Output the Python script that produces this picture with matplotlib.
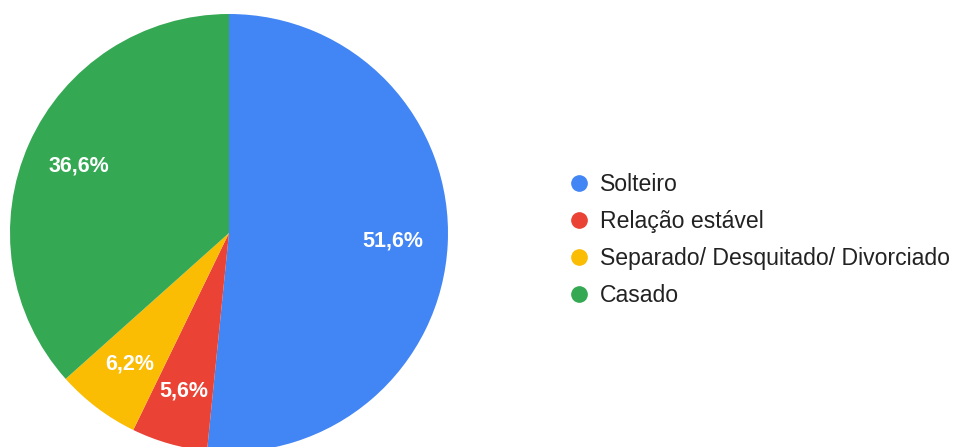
import matplotlib
matplotlib.use("Agg")
import matplotlib.pyplot as plt
import numpy as np
from matplotlib.lines import Line2D

plt.rcParams["font.family"] = ["Liberation Sans", "DejaVu Sans"]

CATEGORIES = ["Solteiro", "Relação estável", "Separado/ Desquitado/ Divorciado", "Casado"]
VALUES = [51.6, 5.6, 6.2, 36.6]
LABELS = ["51,6%", "5,6%", "6,2%", "36,6%"]
COLORS = ["#4285F4", "#EA4335", "#FBBC04", "#34A853"]

W, H = 958, 447
fig = plt.figure(figsize=(W / 100, H / 100), dpi=100, facecolor="white")

# pie: centre (229, 233) px from top-left, radius 219 px
cx, cy, r = 229, 233, 219
ax = fig.add_axes([(cx - r) / W, (H - cy - r) / H, 2 * r / W, 2 * r / H])

wedges, _ = ax.pie(VALUES, colors=COLORS, startangle=90, counterclock=False,
                   radius=1, wedgeprops=dict(linewidth=0), frame=False)
ax.set_xlim(-1, 1)
ax.set_ylim(-1, 1)
ax.set_aspect("equal")
ax.axis("off")
for w in wedges:
    w.set_clip_on(False)

# percentage labels inside the slices
theta0 = 90.0
total = sum(VALUES)
for v, lab in zip(VALUES, LABELS):
    span = 360.0 * v / total
    mid = np.deg2rad(theta0 - span / 2)
    d = 0.75
    ax.text(d * np.cos(mid), d * np.sin(mid), lab, ha="center", va="center",
            color="white", fontsize=15.5, fontweight="bold")
    theta0 -= span

handles = [Line2D([], [], marker="o", linestyle="", markersize=11,
                  markerfacecolor=c, markeredgecolor=c) for c in COLORS]
fig.legend(handles, CATEGORIES, loc="center left",
           bbox_to_anchor=(557 / W, 1 - 240 / H), frameon=False,
           fontsize=16.6, handletextpad=0.45, labelspacing=0.6,
           handlelength=0.9, borderpad=0, labelcolor="#222222")

fig.savefig("out.png", dpi=100, facecolor="white")
